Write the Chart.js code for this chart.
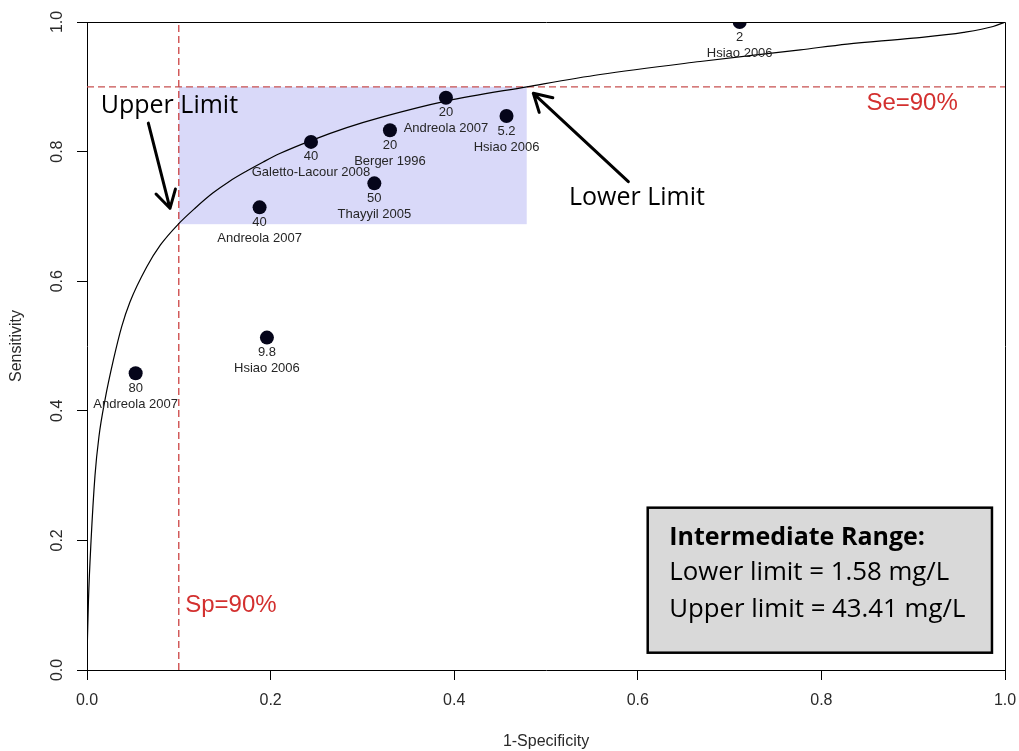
<!DOCTYPE html>
<html>
<head>
<meta charset="utf-8">
<script src="https://cdn.jsdelivr.net/npm/chart.js@4.4.1/dist/chart.umd.min.js"></script>
<style>
  html, body { margin: 0; padding: 0; background: #ffffff; }
  #wrap { width: 1019px; height: 751px; }
</style>
</head>
<body>
<div id="wrap"><canvas id="roc" width="1019" height="751"></canvas></div>
<script>
// Published cut-offs (mg/L) with their reported 1-specificity / sensitivity
const studies = ['Hsiao 2006', 'Andreola 2007', 'Hsiao 2006', 'Galetto-Lacour 2008', 'Berger 1996',
                 'Thayyil 2005', 'Andreola 2007', 'Hsiao 2006', 'Andreola 2007'];
const cutoffs = ['2', '20', '5.2', '40', '20', '50', '40', '9.8', '80'];
const studyFpr  = [0.711, 0.391, 0.457, 0.244, 0.330, 0.313, 0.188, 0.196, 0.053];
const studySens = [1.000, 0.883, 0.855, 0.815, 0.833, 0.751, 0.714, 0.513, 0.458];

// Summary ROC curve
const rocFpr  = [0.000, 0.0016, 0.0044, 0.0087, 0.013, 0.0196, 0.029, 0.0378, 0.0468, 0.065,
                 0.080, 0.0994, 0.118, 0.137, 0.155, 0.174, 0.192, 0.210, 0.244, 0.283,
                 0.323, 0.391, 0.479, 0.559, 0.668, 0.777, 0.828, 0.900, 0.955, 0.987, 1.000];
const rocSens = [0.020, 0.108, 0.199, 0.300, 0.360, 0.417, 0.480, 0.530, 0.568, 0.622,
                 0.656, 0.688, 0.713, 0.736, 0.754, 0.770, 0.784, 0.797, 0.817, 0.837,
                 0.854, 0.878, 0.900, 0.919, 0.939, 0.957, 0.966, 0.975, 0.984, 0.993, 1.000];

const axisTicks = [0, 0.2, 0.4, 0.6, 0.8, 1.0];

// Sp = 90% and Se = 90% reference lines, and the intermediate zone between them
const spLineFpr = 0.1;
const seLineSens = 0.9;
const zoneFpr  = [0.1, 0.479];
const zoneSens = [0.688, 0.9];

const rangeLines = ['Intermediate Range:', 'Lower limit = 1.58 mg/L', 'Upper limit = 43.41 mg/L'];

const RFONT = '"Liberation Sans", Arial, sans-serif';
const CFONT = '"Open Sans", sans-serif';

function arrow(ctx, x0, y0, x1, y1) {
  const ang = Math.atan2(y1 - y0, x1 - x0);
  const len = 20, spread = Math.PI / 6;
  ctx.beginPath();
  ctx.moveTo(x0, y0);
  ctx.lineTo(x1, y1);
  ctx.moveTo(x1 - len * Math.cos(ang - spread), y1 - len * Math.sin(ang - spread));
  ctx.lineTo(x1, y1);
  ctx.lineTo(x1 - len * Math.cos(ang + spread), y1 - len * Math.sin(ang + spread));
  ctx.stroke();
}

const overlay = {
  id: 'overlay',
  beforeDatasetsDraw(chart) {
    const { ctx, scales: { x, y } } = chart;
    const x0 = x.getPixelForValue(zoneFpr[0]), x1 = x.getPixelForValue(zoneFpr[1]);
    const y0 = y.getPixelForValue(zoneSens[1]), y1 = y.getPixelForValue(zoneSens[0]);
    ctx.save();
    ctx.fillStyle = '#d9d9f9';
    ctx.fillRect(x0, y0, x1 - x0, y1 - y0);
    ctx.restore();
  },
  afterDatasetsDraw(chart) {
    const { ctx, chartArea: a, scales: { x, y } } = chart;
    ctx.save();

    // plot frame (top and right edges)
    ctx.strokeStyle = '#000';
    ctx.lineWidth = 1;
    ctx.beginPath();
    ctx.moveTo(Math.round(a.left) + 0.5, Math.round(a.top) + 0.5);
    ctx.lineTo(Math.round(a.right) + 0.5, Math.round(a.top) + 0.5);
    ctx.lineTo(Math.round(a.right) + 0.5, Math.round(a.bottom) + 0.5);
    ctx.stroke();

    // cut-off values and study names under each point
    const meta = chart.getDatasetMeta(0);
    ctx.fillStyle = '#262626';
    ctx.font = '13px ' + RFONT;
    ctx.textAlign = 'center';
    ctx.textBaseline = 'middle';
    meta.data.forEach((pt, i) => {
      ctx.fillText(cutoffs[i], pt.x, pt.y + 15);
      ctx.fillText(studies[i], pt.x, pt.y + 31);
    });

    // reference line labels
    ctx.fillStyle = '#d3302f';
    ctx.font = '24px ' + RFONT;
    ctx.textAlign = 'left';
    ctx.textBaseline = 'alphabetic';
    ctx.fillText('Se=90%', x.getPixelForValue(0.849), y.getPixelForValue(0.864));
    ctx.fillText('Sp=90%', x.getPixelForValue(0.107), y.getPixelForValue(0.090));

    // limit annotations
    ctx.fillStyle = '#000';
    ctx.font = '25px ' + CFONT;
    ctx.fillText('Upper Limit', x.getPixelForValue(0.0150), y.getPixelForValue(0.859));
    ctx.fillText('Lower Limit', x.getPixelForValue(0.525), y.getPixelForValue(0.718));
    ctx.strokeStyle = '#000';
    ctx.lineWidth = 3;
    ctx.lineCap = 'round';
    ctx.lineJoin = 'round';
    arrow(ctx, x.getPixelForValue(0.0668), y.getPixelForValue(0.844),
               x.getPixelForValue(0.0904), y.getPixelForValue(0.7125));
    arrow(ctx, x.getPixelForValue(0.5897), y.getPixelForValue(0.7536),
               x.getPixelForValue(0.4862), y.getPixelForValue(0.890));

    // intermediate range summary box
    const bx0 = x.getPixelForValue(0.6108), bx1 = x.getPixelForValue(0.9858);
    const by0 = y.getPixelForValue(0.2505), by1 = y.getPixelForValue(0.0267);
    ctx.fillStyle = '#d9d9d9';
    ctx.fillRect(bx0, by0, bx1 - bx0, by1 - by0);
    ctx.lineWidth = 2.5;
    ctx.lineCap = 'butt';
    ctx.lineJoin = 'miter';
    ctx.strokeRect(bx0, by0, bx1 - bx0, by1 - by0);
    ctx.fillStyle = '#000';
    const tx = bx0 + 21.5;
    ctx.font = 'bold 25px ' + CFONT;
    ctx.fillText(rangeLines[0], tx, by0 + 37.5);
    ctx.font = '25.8px ' + CFONT;
    ctx.fillText(rangeLines[1], tx, by0 + 72.5);
    ctx.fillText(rangeLines[2], tx, by0 + 109);

    ctx.restore();
  }
};

const toPoints = (xs, ys) => xs.map((v, i) => ({ x: v, y: ys[i] }));

new Chart(document.getElementById('roc'), {
  type: 'scatter',
  data: {
    datasets: [
      {
        label: 'Studies',
        data: toPoints(studyFpr, studySens),
        pointRadius: 7,
        pointBackgroundColor: '#05051a',
        pointBorderWidth: 0,
        clip: 0
      },
      {
        label: 'ROC',
        data: toPoints(rocFpr, rocSens),
        showLine: true,
        borderColor: '#000',
        borderWidth: 1.2,
        pointRadius: 0,
        cubicInterpolationMode: 'monotone',
        clip: 0
      },
      {
        label: 'Se=90%',
        data: [{ x: 0, y: seLineSens }, { x: 1, y: seLineSens }],
        showLine: true,
        borderColor: 'rgb(200,80,80)',
        borderWidth: 1.2,
        borderDash: [7, 4],
        pointRadius: 0,
        clip: 0
      },
      {
        label: 'Sp=90%',
        data: [{ x: spLineFpr, y: 0 }, { x: spLineFpr, y: 1 }],
        showLine: true,
        borderColor: 'rgb(200,50,50)',
        borderWidth: 1.2,
        borderDash: [7, 4],
        pointRadius: 0,
        clip: 0
      }
    ]
  },
  options: {
    responsive: false,
    animation: false,
    devicePixelRatio: 1,
    layout: { padding: { top: 22, right: 14, left: 0, bottom: 0 } },
    plugins: { legend: { display: false }, tooltip: { enabled: false } },
    scales: {
      x: {
        type: 'linear', min: 0, max: 1,
        afterBuildTicks: s => { s.ticks = axisTicks.map(v => ({ value: v })); },
        afterFit: s => { s.height = 81; s.paddingLeft = 0; s.paddingRight = 0; },
        grid: { drawOnChartArea: false, drawTicks: true, tickLength: 10, color: '#000', lineWidth: 1 },
        border: { display: true, color: '#000', width: 1 },
        ticks: {
          color: '#2a2a2a', padding: 11, maxRotation: 0,
          font: { family: RFONT, size: 16 },
          callback: v => Number(v).toFixed(1)
        },
        title: {
          display: true, text: '1-Specificity', color: '#2a2a2a',
          font: { family: RFONT, size: 16 }, padding: { top: 0, bottom: 0 }
        }
      },
      y: {
        type: 'linear', min: 0, max: 1,
        afterBuildTicks: s => { s.ticks = axisTicks.map(v => ({ value: v })); },
        afterFit: s => { s.width = 87; s.paddingTop = 0; s.paddingBottom = 0; },
        grid: { drawOnChartArea: false, drawTicks: true, tickLength: 10, color: '#000', lineWidth: 1 },
        border: { display: true, color: '#000', width: 1 },
        ticks: {
          color: '#2a2a2a', padding: 8, minRotation: 90, maxRotation: 90, crossAlign: 'center',
          font: { family: RFONT, size: 16 },
          callback: v => Number(v).toFixed(1)
        },
        title: {
          display: true, text: 'Sensitivity', color: '#2a2a2a',
          font: { family: RFONT, size: 16 }, padding: { top: 7, bottom: 0 }
        }
      }
    }
  },
  plugins: [overlay]
});
</script>
</body>
</html>
